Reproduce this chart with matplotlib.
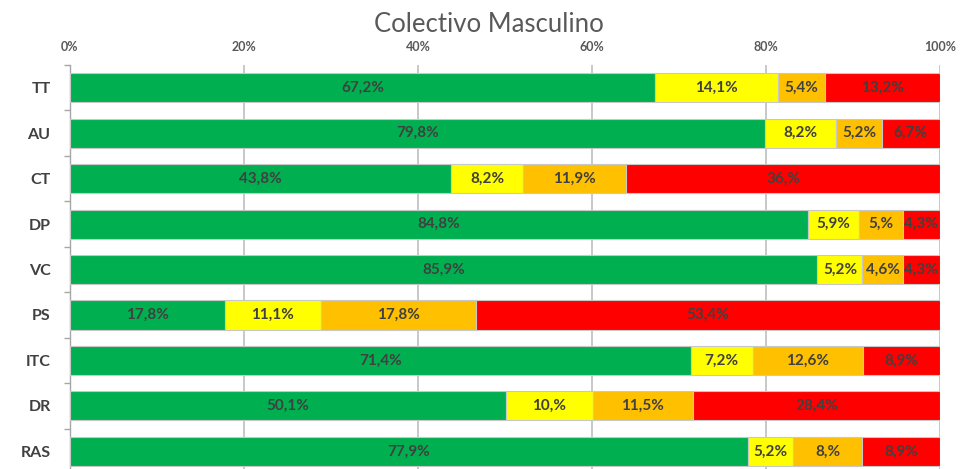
import numpy as np
import matplotlib.pyplot as plt
from matplotlib.ticker import FixedLocator

plt.rcParams['font.family'] = ['Lato', 'DejaVu Sans']

# data (percent, Excel 100% stacked bar)
categories = ['TT', 'AU', 'CT', 'DP', 'VC', 'PS', 'ITC', 'DR', 'RAS']
green  = [67.2, 79.8, 43.8, 84.8, 85.9, 17.8, 71.4, 50.1, 77.9]
yellow = [14.1,  8.2,  8.2,  5.9,  5.2, 11.1,  7.2, 10.0,  5.2]
orange = [ 5.4,  5.2, 11.9,  5.0,  4.6, 17.8, 12.6, 11.5,  8.0]
red    = [13.2,  6.7, 36.0,  4.3,  4.3, 53.4,  8.9, 28.4,  8.9]
xticklabels = ['0%', '20%', '40%', '60%', '80%', '100%']

series = [green, yellow, orange, red]
colors = ['#00B050', '#FFFF00', '#FFC000', '#FF0000']


def fmt(v):
    # Excel-style label, e.g. 36,% or 67,2%
    s = ('%.1f' % v).replace('.', ',')
    if s.endswith(',0'):
        s = s[:-1]
    return s + '%'


fig = plt.figure(figsize=(9.72, 4.69), dpi=100)
ax = fig.add_axes([0.072, -0.0107, 0.895, 0.872])

y = np.arange(len(categories))
totals = np.sum(series, axis=0)
left = np.zeros(len(categories))
for vals, col in zip(series, colors):
    vals = np.array(vals)
    w = vals / totals * 100
    ax.barh(y, w, left=left, height=0.64, color=col, edgecolor='#C8C8C8',
            linewidth=0.8, zorder=3)
    for yi, li, wi, v in zip(y, left, w, vals):
        ax.text(li + wi / 2, yi, fmt(v), ha='center', va='center',
                fontsize=11, fontweight='bold', color='#404040', zorder=4)
    left += w

ax.set_xlim(0, 100)
ax.set_ylim(len(categories) - 0.5, -0.5)
ax.xaxis.tick_top()
ax.set_xticks(np.arange(0, 101, 20))
ax.set_xticklabels(xticklabels, fontsize=9, fontweight='bold', color='#595959')
ax.tick_params(axis='x', length=0, pad=9)
ax.set_yticks(y)
ax.set_yticklabels(categories, fontsize=11.5, fontweight='bold', color='#404040')
ax.tick_params(axis='y', which='major', length=0, pad=14)
ax.yaxis.set_minor_locator(FixedLocator(np.arange(-0.5, len(categories), 1)))
ax.tick_params(axis='y', which='minor', length=4, color='#A6A6A6', width=1)

ax.grid(axis='x', color='#BFBFBF', linewidth=1.2, zorder=0)
for s in ['top', 'right', 'bottom']:
    ax.spines[s].set_visible(False)
ax.spines['left'].set_color('#A6A6A6')
ax.spines['left'].set_linewidth(1)

fig.text(0.503, 0.948, 'Colectivo Masculino', ha='center', va='center',
         fontsize=18.5, color='#595959')

fig.savefig('out.png', dpi=100)
